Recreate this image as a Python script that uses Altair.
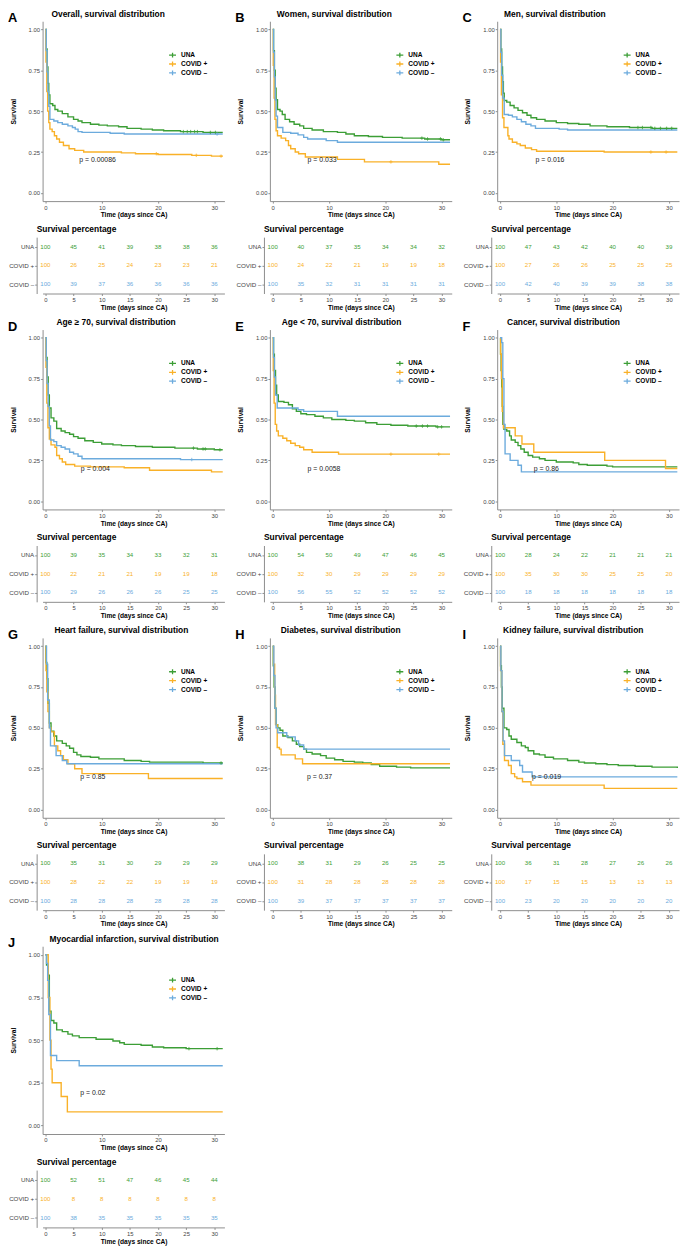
import altair as alt
import pandas as pd

FONT = "Liberation Sans"
GROUPS = ["UNA", "COVID +", "COVID –"]
COLORS = ["#3c9e36", "#f9b128", "#6cabdd"]
TICK_DAYS = [0, 5, 10, 15, 20, 25, 30]
SURV_TICKS = [0.0, 0.25, 0.5, 0.75, 1.0]

LETTERS = ["A", "B", "C", "D", "E", "F", "G", "H", "I", "J"]
TITLES = [
    "Overall, survival distribution",
    "Women, survival distribution",
    "Men, survival distribution",
    "Age ≥ 70, survival distribution",
    "Age < 70, survival distribution",
    "Cancer, survival distribution",
    "Heart failure, survival distribution",
    "Diabetes, survival distribution",
    "Kidney failure, survival distribution",
    "Myocardial infarction, survival distribution",
]
TITLE_DX = [9, 7, 7, 14, 12, 10, 12, 11, 6, 7]
P_LABELS = ["p = 0.00086", "p = 0.033", "p = 0.016", "p = 0.004", "p = 0.0058",
            "p = 0.86", "p = 0.85", "p = 0.37", "p = 0.019", "p = 0.02"]
P_DAY = [6.0, 6.2, 6.3, 6.3, 6.2, 6.0, 6.2, 6.1, 5.7, 6.2]
P_SURV = [0.2, 0.2, 0.2, 0.196, 0.196, 0.196, 0.2, 0.2, 0.2, 0.193]

# ---- Kaplan-Meier step curves: (day, survival) ----
A_UNA = [(0, 1), (0.15, 0.88), (0.3, 0.77), (0.45, 0.67), (0.6, 0.6), (0.8, 0.545), (1.3, 0.535), (1.7, 0.51),
         (2.2, 0.5), (3, 0.485), (4, 0.465), (5, 0.45), (5.8, 0.44), (6.5, 0.43), (8, 0.42), (9.5, 0.415),
         (11, 0.41), (13, 0.405), (14.5, 0.395), (17, 0.39), (19, 0.385), (21, 0.38), (24, 0.375), (28, 0.37), (31.5, 0.37)]
A_POS = [(0, 1), (0.1, 0.8), (0.25, 0.62), (0.4, 0.5), (0.6, 0.43), (0.8, 0.39), (1.2, 0.375), (1.6, 0.35),
         (2, 0.33), (2.5, 0.31), (3.2, 0.29), (4.2, 0.27), (5.2, 0.26), (6.8, 0.25), (13.5, 0.245), (16, 0.24),
         (20, 0.235), (26, 0.23), (29.5, 0.225), (31.5, 0.225)]
A_NEG = [(0, 1), (0.15, 0.87), (0.3, 0.74), (0.45, 0.62), (0.6, 0.53), (0.8, 0.45), (1.5, 0.44), (2.2, 0.43),
         (3, 0.42), (4, 0.41), (4.8, 0.4), (5.3, 0.39), (5.8, 0.375), (6.5, 0.37), (11.5, 0.365), (14, 0.36), (31.5, 0.36)]

B_UNA = [(0, 1), (0.15, 0.87), (0.3, 0.75), (0.45, 0.64), (0.6, 0.57), (0.85, 0.51), (1.3, 0.5), (1.7, 0.48),
         (2.2, 0.45), (3, 0.435), (3.8, 0.42), (4.8, 0.41), (5.5, 0.395), (7, 0.385), (9, 0.375), (11.5, 0.37),
         (13, 0.36), (14.5, 0.35), (17, 0.345), (19.5, 0.34), (23, 0.335), (27, 0.33), (30, 0.325), (31.5, 0.325)]
B_POS = [(0, 1), (0.1, 0.78), (0.25, 0.58), (0.4, 0.45), (0.6, 0.38), (0.85, 0.35), (1.5, 0.335), (2.3, 0.32),
         (2.8, 0.29), (3.2, 0.27), (4, 0.25), (4.6, 0.24), (5.8, 0.22), (11.5, 0.205), (16.3, 0.19), (29.5, 0.175), (31.5, 0.175)]
B_NEG = [(0, 1), (0.15, 0.86), (0.3, 0.71), (0.45, 0.57), (0.6, 0.47), (0.85, 0.4), (1.8, 0.37), (3.2, 0.365),
         (4.5, 0.355), (5.5, 0.34), (6.2, 0.33), (9.5, 0.32), (11.5, 0.31), (31.5, 0.31)]

C_UNA = [(0, 1), (0.15, 0.88), (0.3, 0.77), (0.45, 0.68), (0.6, 0.61), (0.75, 0.565), (1.2, 0.555), (1.8, 0.535),
         (2.5, 0.52), (3.2, 0.505), (4, 0.49), (4.8, 0.475), (5.5, 0.46), (6.5, 0.45), (8, 0.44), (10, 0.43),
         (12, 0.425), (14, 0.42), (16, 0.41), (19, 0.405), (23, 0.4), (27, 0.395), (31.5, 0.395)]
C_POS = [(0, 1), (0.1, 0.8), (0.25, 0.6), (0.45, 0.46), (0.7, 0.4), (1.4, 0.35), (1.6, 0.33), (2.2, 0.31),
         (3, 0.3), (3.6, 0.29), (4.5, 0.275), (5.6, 0.265), (6.5, 0.255), (18.5, 0.25), (31.5, 0.25)]
C_NEG = [(0, 1), (0.15, 0.86), (0.3, 0.72), (0.5, 0.58), (0.75, 0.48), (1.5, 0.475), (2.2, 0.465), (3, 0.45),
         (3.8, 0.435), (4.6, 0.42), (5.5, 0.41), (6.3, 0.395), (10.5, 0.39), (12, 0.385), (31.5, 0.385)]

D_UNA = [(0, 1), (0.15, 0.88), (0.3, 0.76), (0.5, 0.65), (0.7, 0.57), (1, 0.51), (1.5, 0.49), (2, 0.445),
         (2.8, 0.43), (3.5, 0.42), (4.3, 0.41), (5, 0.395), (5.8, 0.385), (7, 0.37), (8.5, 0.36), (10, 0.35),
         (12, 0.345), (13.5, 0.34), (16, 0.335), (19, 0.33), (23, 0.325), (27, 0.32), (30, 0.315), (31.5, 0.315)]
D_POS = [(0, 1), (0.1, 0.82), (0.25, 0.6), (0.45, 0.45), (0.7, 0.38), (1, 0.345), (1.7, 0.33), (2, 0.28),
         (2.5, 0.26), (3, 0.24), (3.6, 0.225), (5.2, 0.215), (8, 0.21), (14, 0.205), (18.5, 0.19), (29.5, 0.18), (31.5, 0.18)]
D_NEG = [(0, 1), (0.15, 0.86), (0.3, 0.72), (0.5, 0.58), (0.7, 0.46), (0.9, 0.375), (1.5, 0.365), (2, 0.34),
         (2.8, 0.33), (3.5, 0.32), (4.3, 0.3), (5, 0.29), (5.8, 0.275), (6.5, 0.26), (24, 0.255), (31.5, 0.255)]

E_UNA = [(0, 1), (0.15, 0.9), (0.3, 0.8), (0.5, 0.71), (0.7, 0.65), (1, 0.61), (2, 0.605), (2.8, 0.59),
         (3.5, 0.565), (4.2, 0.55), (5, 0.535), (6, 0.53), (7.5, 0.52), (9, 0.51), (10.5, 0.5), (13, 0.495),
         (14.5, 0.49), (16.5, 0.48), (18.5, 0.47), (21, 0.465), (24, 0.46), (29, 0.455), (31.5, 0.455)]
E_POS = [(0, 1), (0.1, 0.8), (0.25, 0.6), (0.45, 0.47), (0.7, 0.43), (1, 0.4), (1.8, 0.385), (2.5, 0.37),
         (3.2, 0.355), (4, 0.34), (4.8, 0.33), (5.5, 0.315), (7, 0.3), (11.7, 0.288), (31.5, 0.288)]
E_NEG = [(0, 1), (0.15, 0.88), (0.3, 0.76), (0.5, 0.65), (0.8, 0.57), (4.5, 0.56), (5.5, 0.55), (11.5, 0.52), (31.5, 0.52)]

F_UNA = [(0, 1), (0.1, 0.9), (0.2, 0.8), (0.3, 0.7), (0.4, 0.58), (0.5, 0.47), (0.7, 0.44), (1.2, 0.43),
         (1.7, 0.4), (2, 0.375), (2.7, 0.36), (3.2, 0.34), (3.7, 0.32), (4.3, 0.3), (5, 0.28), (5.8, 0.27),
         (7, 0.26), (8, 0.25), (10, 0.24), (13, 0.235), (14, 0.225), (15.5, 0.22), (19, 0.215), (20, 0.21), (31.5, 0.21)]
F_POS = [(0, 1), (0.1, 0.9), (0.25, 0.75), (0.4, 0.55), (0.6, 0.45), (2.7, 0.4), (3.9, 0.35), (6, 0.3),
         (18.6, 0.25), (29.4, 0.2), (31.5, 0.2)]
F_NEG = [(0, 1), (0.3, 0.97), (0.5, 0.75), (0.7, 0.47), (0.9, 0.29), (1.8, 0.25), (3.2, 0.22), (3.8, 0.18), (31.5, 0.18)]

G_UNA = [(0, 1), (0.1, 0.9), (0.25, 0.8), (0.45, 0.65), (0.7, 0.53), (1, 0.48), (1.5, 0.45), (2, 0.42),
         (3, 0.405), (3.7, 0.39), (4.3, 0.375), (5, 0.35), (5.6, 0.335), (6.3, 0.325), (8, 0.32), (9.5, 0.31),
         (14, 0.3), (17, 0.295), (18.5, 0.29), (28, 0.285), (31.5, 0.285)]
G_POS = [(0, 1), (0.1, 0.85), (0.25, 0.72), (0.45, 0.6), (0.7, 0.5), (1, 0.475), (1.6, 0.39), (2.2, 0.36),
         (2.7, 0.33), (3.2, 0.305), (4, 0.28), (5.2, 0.25), (6.5, 0.22), (18.3, 0.19), (31.5, 0.19)]
G_NEG = [(0, 1), (0.2, 0.89), (0.4, 0.67), (0.7, 0.5), (0.9, 0.39), (1.9, 0.33), (3, 0.3), (3.8, 0.28), (31.5, 0.28)]

H_UNA = [(0, 1), (0.1, 0.88), (0.25, 0.75), (0.4, 0.62), (0.6, 0.52), (0.9, 0.5), (1.3, 0.485), (1.8, 0.45),
         (2.7, 0.44), (3.5, 0.42), (4.2, 0.4), (4.8, 0.385), (5.5, 0.37), (6, 0.35), (7, 0.34), (8.5, 0.33),
         (9.5, 0.315), (11, 0.305), (12.5, 0.295), (14.5, 0.29), (16, 0.285), (17.5, 0.275), (19, 0.265),
         (22, 0.26), (24.5, 0.255), (31.5, 0.255)]
H_POS = [(0, 1), (0.15, 0.89), (0.35, 0.7), (0.5, 0.52), (0.8, 0.38), (1.2, 0.37), (1.5, 0.335), (4, 0.31),
         (5.3, 0.28), (31.5, 0.28)]
H_NEG = [(0, 1), (0.2, 0.82), (0.4, 0.62), (0.6, 0.5), (0.9, 0.47), (2.5, 0.445), (4, 0.42), (4.6, 0.395),
         (5.5, 0.37), (31.5, 0.37)]

I_UNA = [(0, 1), (0.1, 0.88), (0.25, 0.75), (0.4, 0.62), (0.7, 0.5), (1.2, 0.49), (1.6, 0.45), (2, 0.43),
         (3, 0.41), (3.8, 0.39), (4.5, 0.38), (5, 0.36), (6, 0.34), (7, 0.335), (8, 0.32), (9.5, 0.31),
         (12, 0.3), (14, 0.29), (15, 0.285), (17, 0.28), (19, 0.275), (21, 0.27), (24, 0.265), (27, 0.26), (31.5, 0.255)]
I_POS = [(0, 1), (0.1, 0.85), (0.3, 0.6), (0.5, 0.4), (0.8, 0.3), (1.5, 0.27), (2, 0.22), (2.6, 0.2),
         (3, 0.19), (4, 0.17), (5.5, 0.15), (18.5, 0.13), (31.5, 0.13)]
I_NEG = [(0, 1), (0.15, 0.85), (0.35, 0.6), (0.55, 0.42), (0.8, 0.33), (2, 0.3), (3.5, 0.27), (4, 0.23),
         (5.7, 0.2), (31.5, 0.2)]

J_UNA = [(0, 1), (0.2, 0.94), (0.45, 0.88), (0.7, 0.67), (1, 0.615), (1.5, 0.6), (2, 0.56), (3, 0.55),
         (4, 0.535), (4.8, 0.525), (6, 0.515), (9, 0.505), (12, 0.495), (13.2, 0.485), (14, 0.475), (17, 0.47),
         (19, 0.46), (21, 0.455), (25, 0.45), (31.5, 0.45)]
J_POS = [(0, 1), (0.5, 0.75), (0.8, 0.5), (1, 0.33), (1.2, 0.25), (2.8, 0.17), (3.9, 0.08), (31.5, 0.08)]
J_NEG = [(0, 1), (0.2, 0.95), (0.4, 0.85), (0.6, 0.65), (0.9, 0.41), (2, 0.38), (6, 0.35), (31.5, 0.35)]

# ---- censoring times (+ marks) ----
A_UNA_CENS = [24.5, 25.2, 25.8, 26.5, 27, 29.3, 30.2]
A_POS_CENS = [19.7, 26.8, 31.2]
A_NEG_CENS = [30.5]
B_UNA_CENS = [26.5, 27.5, 29.8, 30.3]
B_POS_CENS = [21]
C_UNA_CENS = [24.5, 25.3, 26.8, 27.5, 28.5, 29.6, 30.5]
C_POS_CENS = [26.8, 29.5]
D_UNA_CENS = [26.3, 28, 28.4, 31]
D_NEG_CENS = [26]
E_UNA_CENS = [25.5, 26.6, 27.5, 29.3, 30]
E_POS_CENS = [21, 29.5]
G_UNA_CENS = [31.2]
J_UNA_CENS = [25.5, 30.5]

# ---- survival percentage tables (UNA, COVID +, COVID -) ----
A_TAB = [[100, 45, 41, 39, 38, 38, 36], [100, 26, 25, 24, 23, 23, 21], [100, 39, 37, 36, 36, 36, 36]]
B_TAB = [[100, 40, 37, 35, 34, 34, 32], [100, 24, 22, 21, 19, 19, 18], [100, 35, 32, 31, 31, 31, 31]]
C_TAB = [[100, 47, 43, 42, 40, 40, 39], [100, 27, 26, 26, 25, 25, 25], [100, 42, 40, 39, 39, 38, 38]]
D_TAB = [[100, 39, 35, 34, 33, 32, 31], [100, 22, 21, 21, 19, 19, 18], [100, 29, 26, 26, 26, 25, 25]]
E_TAB = [[100, 54, 50, 49, 47, 46, 45], [100, 32, 30, 29, 29, 29, 29], [100, 56, 55, 52, 52, 52, 52]]
F_TAB = [[100, 28, 24, 22, 21, 21, 21], [100, 35, 30, 30, 25, 25, 20], [100, 18, 18, 18, 18, 18, 18]]
G_TAB = [[100, 35, 31, 30, 29, 29, 29], [100, 28, 22, 22, 19, 19, 19], [100, 28, 28, 28, 28, 28, 28]]
H_TAB = [[100, 38, 31, 29, 26, 25, 25], [100, 31, 28, 28, 28, 28, 28], [100, 39, 37, 37, 37, 37, 37]]
I_TAB = [[100, 36, 31, 28, 27, 26, 26], [100, 17, 15, 15, 13, 13, 13], [100, 23, 20, 20, 20, 20, 20]]
J_TAB = [[100, 52, 51, 47, 46, 45, 44], [100, 8, 8, 8, 8, 8, 8], [100, 38, 35, 35, 35, 35, 35]]

PANELS = [
    ([A_UNA, A_POS, A_NEG], [A_UNA_CENS, A_POS_CENS, A_NEG_CENS], A_TAB),
    ([B_UNA, B_POS, B_NEG], [B_UNA_CENS, B_POS_CENS, []], B_TAB),
    ([C_UNA, C_POS, C_NEG], [C_UNA_CENS, C_POS_CENS, []], C_TAB),
    ([D_UNA, D_POS, D_NEG], [D_UNA_CENS, [], D_NEG_CENS], D_TAB),
    ([E_UNA, E_POS, E_NEG], [E_UNA_CENS, E_POS_CENS, []], E_TAB),
    ([F_UNA, F_POS, F_NEG], [[], [], []], F_TAB),
    ([G_UNA, G_POS, G_NEG], [G_UNA_CENS, [], []], G_TAB),
    ([H_UNA, H_POS, H_NEG], [[], [], []], H_TAB),
    ([I_UNA, I_POS, I_NEG], [[], [], []], I_TAB),
    ([J_UNA, J_POS, J_NEG], [J_UNA_CENS, [], []], J_TAB),
]

PLOT_W = 184
KM_H = 182
KM_H_LAST = 190
TAB_H = 57
TAB_H_LAST = 58
X_DOMAIN = [-0.5, 31.8]


def step_value(points, t):
    v = points[0][1]
    for d, s in points:
        if d <= t:
            v = s
    return v


def km_chart(i, curves, censors, height):
    rows = [{"day": d, "surv": s, "group": g} for g, pts in zip(GROUPS, curves) for d, s in pts]
    df = pd.DataFrame(rows)
    color = alt.Color(
        "group:N",
        scale=alt.Scale(domain=GROUPS, range=COLORS),
        legend=alt.Legend(
            title=None, orient="none", legendX=127, legendY=31,
            symbolType="M-1,0L1,0M0,-0.7L0,0.7", symbolSize=49, symbolStrokeWidth=1.3,
            labelFontSize=6.6, labelFontWeight="bold", labelFont=FONT, labelColor="black",
            rowPadding=2, clipHeight=6.5, labelOffset=4,
        ),
    )
    x = alt.X("day:Q", scale=alt.Scale(domain=X_DOMAIN, nice=False, zero=False),
              axis=alt.Axis(values=TICK_DAYS, title="Time (days since CA)"))
    y = alt.Y("surv:Q", scale=alt.Scale(domain=[-0.05, 1.05], nice=False, zero=False),
              axis=alt.Axis(values=SURV_TICKS, format=".2f", title="Survival", titlePadding=12))
    layers = [alt.Chart(df).mark_line(interpolate="step-after", strokeWidth=1.4).encode(x=x, y=y, color=color)]

    crow = [{"day": t, "surv": step_value(pts, t), "group": g}
            for g, pts, cs in zip(GROUPS, curves, censors) for t in cs]
    if crow:
        layers.append(
            alt.Chart(pd.DataFrame(crow)).mark_point(
                shape="M-1,0L1,0M0,-1L0,1", size=12, strokeWidth=0.8, filled=False, opacity=1
            ).encode(x="day:Q", y="surv:Q", color=color)
        )
    layers.append(
        alt.Chart(pd.DataFrame({"day": [P_DAY[i]], "surv": [P_SURV[i]], "label": [P_LABELS[i]]}))
        .mark_text(align="left", baseline="middle", fontSize=7, color="#222222", font=FONT)
        .encode(x="day:Q", y="surv:Q", text="label:N")
    )
    layers.append(
        alt.Chart(pd.DataFrame({"label": [LETTERS[i]]}))
        .mark_text(align="left", baseline="alphabetic", fontSize=13, fontWeight="bold", color="black", font=FONT)
        .encode(x=alt.value(-35), y=alt.value(1), text="label:N")
    )
    return alt.layer(*layers).properties(
        width=PLOT_W, height=height,
        title=alt.Title(TITLES[i], anchor="start", frame="group", dx=TITLE_DX[i], fontSize=8.5,
                        fontWeight="bold", offset=-6, font=FONT, color="black"),
    )


def table_chart(vals, height):
    rows = [{"day": d, "group": g, "pct": v} for g, series in zip(GROUPS, vals) for d, v in zip(TICK_DAYS, series)]
    return alt.Chart(pd.DataFrame(rows)).mark_text(fontSize=6.2, font=FONT).encode(
        x=alt.X("day:Q", scale=alt.Scale(domain=X_DOMAIN, nice=False, zero=False),
                axis=alt.Axis(values=TICK_DAYS, title="Time (days since CA)")),
        y=alt.Y("group:N", scale=alt.Scale(domain=GROUPS),
                axis=alt.Axis(title=None, labelFontSize=6.3, offset=6)),
        text="pct:Q",
        color=alt.Color("group:N", scale=alt.Scale(domain=GROUPS, range=COLORS), legend=None),
    ).properties(
        width=PLOT_W, height=height,
        title=alt.Title("Survival percentage", anchor="start", frame="group", dx=-6, fontSize=8.5,
                        fontWeight="bold", offset=4, font=FONT, color="black"),
    )


def blank():
    return alt.Chart(pd.DataFrame({"v": [0]})).mark_point(opacity=0).encode(
        x=alt.X("v:Q", axis=None), y=alt.Y("v:Q", axis=None)
    ).properties(width=1, height=1)


kms = [km_chart(i, p[0], p[1], KM_H if i < 9 else KM_H_LAST) for i, p in enumerate(PANELS)]
tabs = [table_chart(p[2], TAB_H if i < 9 else TAB_H_LAST) for i, p in enumerate(PANELS)]

cells = []
for r in range(3):
    cells += kms[3 * r:3 * r + 3]
    cells += tabs[3 * r:3 * r + 3]
cells += [kms[9], blank(), blank(), tabs[9], blank(), blank()]

chart = alt.concat(
    *cells, columns=3, bounds="flush", spacing={"row": 36.5, "column": 46},
    padding={"top": -6, "left": 0, "right": 0, "bottom": 0},
).resolve_scale(color="independent").configure(font=FONT).configure_axis(
    domainColor="#8c8c8c", domainWidth=1, tickColor="#8c8c8c", tickSize=2, tickWidth=1,
    labelFontSize=6, labelColor="#444444", labelFont=FONT, labelPadding=1,
    titleFont=FONT, titleFontSize=6.7, titleFontWeight="bold", titleColor="black", titlePadding=2,
    grid=False,
).configure_view(stroke=None)

chart.save("out.html", embed_options={"renderer": "svg", "actions": False})
